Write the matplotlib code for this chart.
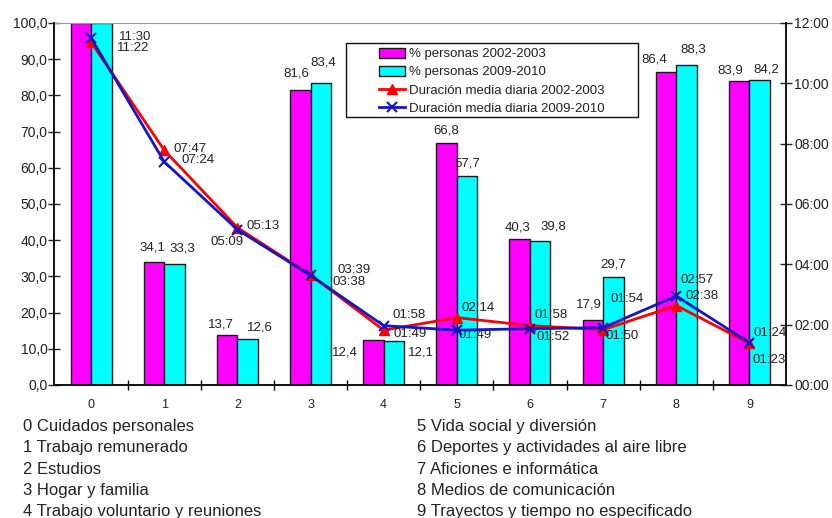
#!/usr/bin/python
# -*- coding:utf-8 -*-

import numpy as np
import matplotlib
matplotlib.use('Agg')
import matplotlib.pyplot as plt
from matplotlib.patches import Rectangle
from matplotlib.lines import Line2D

plt.rcParams['font.family'] = ['Liberation Sans', 'DejaVu Sans']

categories = list(range(10))
cat_names = ['0 Cuidados personales', '1 Trabajo remunerado', '2 Estudios',
             '3 Hogar y familia', '4 Trabajo voluntario y reuniones',
             '5 Vida social y diversión', '6 Deportes y actividades al aire libre',
             '7 Aficiones e informática', '8 Medios de comunicación',
             '9 Trayectos y tiempo no especificado']
pct_2002 = [100.0, 34.1, 13.7, 81.6, 12.4, 66.8, 40.3, 17.9, 86.4, 83.9]
pct_2009 = [100.0, 33.3, 12.6, 83.4, 12.1, 57.7, 39.8, 29.7, 88.3, 84.2]
dur_2002 = ['11:22', '07:47', '05:13', '03:39', '01:49', '02:14', '01:58', '01:50', '02:38', '01:23']
dur_2009 = ['11:30', '07:24', '05:09', '03:38', '01:58', '01:49', '01:52', '01:54', '02:57', '01:24']
y_ticks = [0, 10, 20, 30, 40, 50, 60, 70, 80, 90, 100]
h_ticks = [0, 2, 4, 6, 8, 10, 12]

# label offsets in pixels (dx, dy up)
off_b02 = [(0, 0), (-2, 14), (-6, 11), (-4, 16), None, (0, 13), (-2, 12), (-4, 16), (-12, 13), (-9, 11)]
off_b09 = [(0, 0), (8, 16), (12, 12), (2, 21), None, (0, 13), (13, 14), (0, 13), (7, 16), (7, 11)]
# time labels: (dx left edge, dy down) in pixels
off_t02 = [(26, 6), (9, -1), (9, -2), (27, -5), (10, 4), (5, -10), (5, -11), (2, 6), (9, -10), (3, 17)]
off_t09 = [(28, -1), (17, -2), (-27, 12), (22, 7), (9, -11), (2, 5), (7, 8), (7, -29), (4, -16), (4, -10)]

TXT = '#222222'
MAG = '#FF00FF'
CYA = '#00FFFF'
RED = '#FF0000'
BLU = '#1414C8'


def to_hours(s):
    h, m = s.split(':')
    return int(h) + int(m) / 60.0


def fmt_comma(v):
    return '{:.1f}'.format(v).replace('.', ',')


def plot_chart():
    fig = plt.figure(figsize=(8.32, 5.18), dpi=100)
    ax = fig.add_axes([0.0655, 0.2568, 0.8792, 0.6988])
    x = np.array(categories, dtype=float)
    w = 0.28

    ax.bar(x - w / 2, pct_2002, w, color=MAG, edgecolor='#1a1a1a', linewidth=1.0, zorder=2)
    ax.bar(x + w / 2, pct_2009, w, color=CYA, edgecolor='#1a1a1a', linewidth=1.0, zorder=2)
    ax.set_xlim(-0.5, 9.5)
    ax.set_ylim(0, 100)

    ax.set_yticks(y_ticks)
    ax.set_yticklabels([fmt_comma(v) for v in y_ticks])
    ax.set_xticks(x)
    ax.set_xticklabels([str(c) for c in categories])
    ax.set_xticks(np.arange(0.5, 9.5, 1.0), minor=True)
    ax.tick_params(axis='x', which='major', length=0, pad=10, labelsize=9, colors=TXT)
    ax.tick_params(axis='x', which='minor', length=7, direction='inout', width=1.0)
    ax.tick_params(axis='y', length=8, direction='inout', width=1.0, labelsize=10,
                   colors=TXT, pad=1)
    ax.spines['top'].set_color('#999999')
    for s in ['left', 'bottom', 'right']:
        ax.spines[s].set_linewidth(1.2)
        ax.spines[s].set_color('#111111')

    # bar labels
    for i in categories:
        if i == 0:
            continue
        if i == 4:
            ax.annotate(fmt_comma(pct_2002[i]), xy=(x[i] - w, pct_2002[i]), xytext=(-5, -12),
                        textcoords='offset pixels', ha='right', va='center', fontsize=9.5, color=TXT)
            ax.annotate(fmt_comma(pct_2009[i]), xy=(x[i] + w, pct_2009[i]), xytext=(4, -11),
                        textcoords='offset pixels', ha='left', va='center', fontsize=9.5, color=TXT)
            continue
        ax.annotate(fmt_comma(pct_2002[i]), xy=(x[i] - w / 2, pct_2002[i]), xytext=off_b02[i],
                    textcoords='offset pixels', ha='center', va='center', fontsize=9.5, color=TXT)
        ax.annotate(fmt_comma(pct_2009[i]), xy=(x[i] + w / 2, pct_2009[i]), xytext=off_b09[i],
                    textcoords='offset pixels', ha='center', va='center', fontsize=9.5, color=TXT)

    ax2 = ax.twinx()
    ax2.set_ylim(0, 12)
    ax2.set_yticks(h_ticks)
    ax2.set_yticklabels(['{:02d}:00'.format(h) for h in h_ticks])
    ax2.tick_params(axis='y', length=8, direction='inout', width=1.0, labelsize=10,
                    colors=TXT, pad=2)
    ax2.spines['top'].set_visible(False)
    for s in ['left', 'bottom', 'right']:
        ax2.spines[s].set_linewidth(1.2)
        ax2.spines[s].set_color('#111111')

    h02 = [to_hours(s) for s in dur_2002]
    h09 = [to_hours(s) for s in dur_2009]
    ax2.plot(x, h02, color=RED, lw=2.0, marker='^', ms=7, zorder=3)
    ax2.plot(x, h09, color=BLU, lw=2.0, marker='x', ms=7, mew=1.5, zorder=4)

    for i in categories:
        dx, dy = off_t02[i]
        ax2.annotate(dur_2002[i], xy=(x[i], h02[i]), xytext=(dx, -dy), textcoords='offset pixels',
                     ha='left', va='center', fontsize=9.5, color=TXT)
        dx, dy = off_t09[i]
        ax2.annotate(dur_2009[i], xy=(x[i], h09[i]), xytext=(dx, -dy), textcoords='offset pixels',
                     ha='left', va='center', fontsize=9.5, color=TXT)

    # legend box
    ax2.add_patch(Rectangle((0.398, 0.740), 0.4, 0.205, transform=ax2.transAxes,
                            facecolor='white', edgecolor='#111111', lw=1.0, zorder=5))
    handles = [Rectangle((0, 0), 1, 1, facecolor=MAG, edgecolor='#1a1a1a', lw=1.0),
               Rectangle((0, 0), 1, 1, facecolor=CYA, edgecolor='#1a1a1a', lw=1.0),
               Line2D([], [], color=RED, lw=2.0, marker='^', ms=7),
               Line2D([], [], color=BLU, lw=2.0, marker='x', ms=7, mew=1.5)]
    labels = ['% personas 2002-2003', '% personas 2009-2010',
              'Duración media diaria 2002-2003', 'Duración media diaria 2009-2010']
    leg = ax2.legend(handles, labels, loc='upper left', bbox_to_anchor=(0.4436, 0.932),
                     frameon=False, borderpad=0, borderaxespad=0, handlelength=2.0,
                     handleheight=0.8, handletextpad=0.3, labelspacing=0.42, fontsize=9.5,
                     numpoints=1)
    leg.set_zorder(6)
    for t in leg.get_texts():
        t.set_color(TXT)

    # category descriptions
    rows = [431, 452, 473.5, 495, 516]
    for i, name in enumerate(cat_names):
        xp = 23 if i < 5 else 417
        yp = rows[i % 5]
        fig.text(xp / 832.0, 1 - yp / 518.0, name, fontsize=12, color=TXT, va='baseline', ha='left')

    fig.savefig('out.png', dpi=100)


if __name__ == "__main__":
    plot_chart()
